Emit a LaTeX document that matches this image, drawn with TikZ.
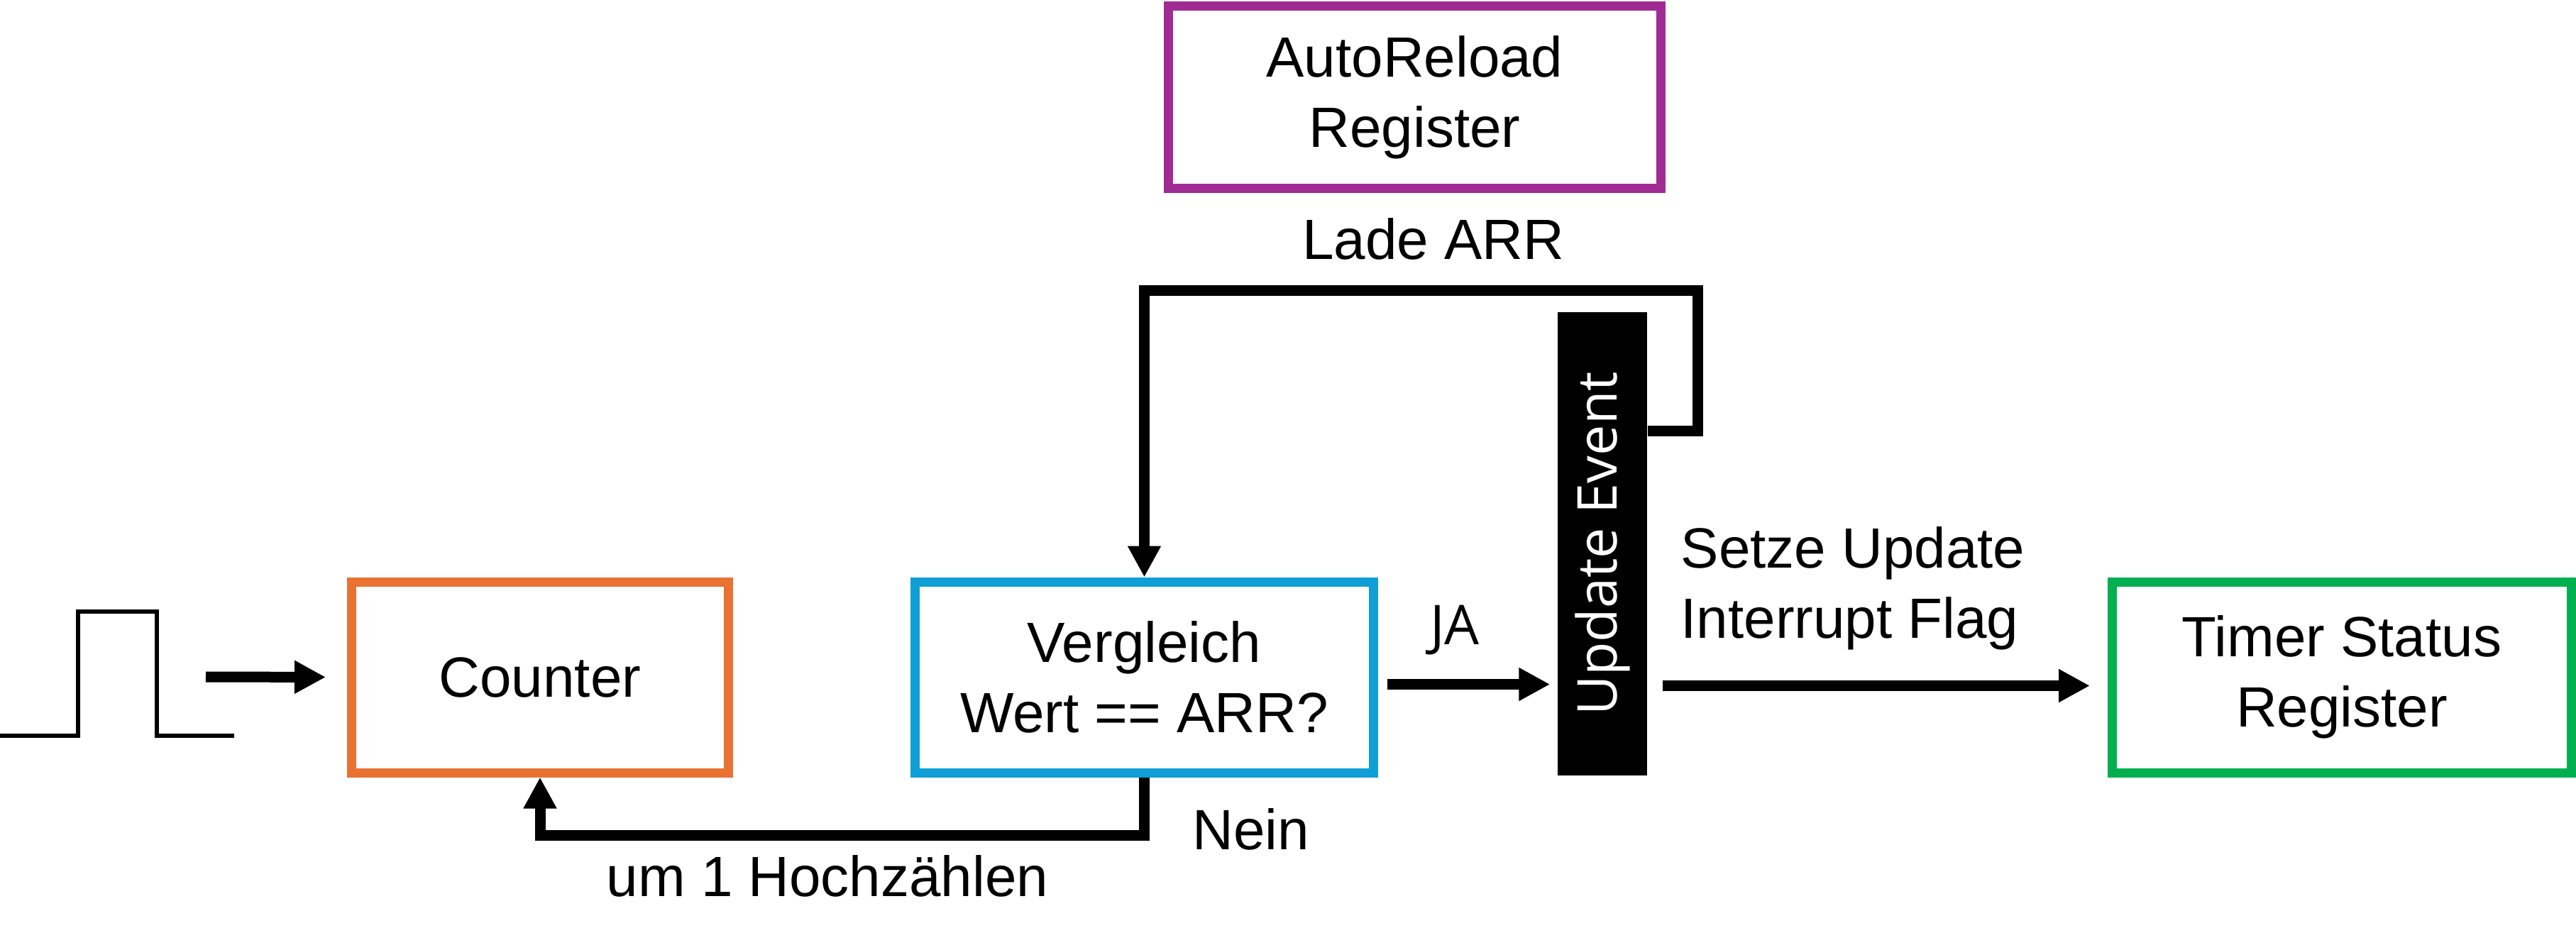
\documentclass[tikz,border=0pt]{standalone}
\usepackage{fontspec}
\setmainfont{Liberation Sans}
\newfontfamily\uifont{Open Sans}
\usetikzlibrary{arrows.meta}

\definecolor{cntorange}{RGB}{233,113,50}
\definecolor{cmpblue}{RGB}{15,158,213}
\definecolor{arrpurple}{RGB}{160,43,147}
\definecolor{tsrgreen}{RGB}{0,176,80}

\begin{document}
\begin{tikzpicture}[
  font=\fontsize{22.76}{28.1}\selectfont,
  block/.style={draw,line width=1.3mm,minimum width=#1,minimum height=2.69cm,align=center,inner sep=0pt},
  evtbar/.style={fill=black,text=white,minimum width=1.26cm,minimum height=6.53cm,inner sep=0pt,font=\uifont\fontsize{22}{26}\selectfont},
  flow/.style={line width=1.5mm,-{Triangle[length=4.4mm,width=4.4mm]}},
  tag/.style={anchor=base,inner sep=0pt}
]
  \useasboundingbox (0,0) rectangle (36.30,-13.38);

  \node[block=5.31cm,color=cntorange,text=black] (counter) at (7.61,-9.545) {Counter};
  \node[block=6.46cm,color=cmpblue,text=black] (compare) at (16.125,-9.545) {Vergleich\\Wert == ARR?};
  \node[block=6.94cm,color=arrpurple,text=black,minimum height=2.57cm] (reload) at (19.935,-1.37) {AutoReload\\Register};
  \node[block=6.47cm,color=tsrgreen,text=black] (status) at (33.00,-9.545) {Timer Status\\Register};
  \node[evtbar] (event) at (22.58,-7.665) {\rotatebox{90}{Update Event}};

  \draw[line width=0.6mm] (0,-10.37) -- (1.10,-10.37) -- (1.10,-8.62) -- (2.21,-8.62)
    -- (2.21,-10.37) -- (3.30,-10.37);
  \coordinate (clk) at (2.90,-9.54);

  \draw[flow,shorten >=3mm] (clk) -- (counter.west);
  \draw[flow,shorten >=1mm] ([xshift=1.3mm,yshift=-1mm]compare.east) -- ([yshift=-1mm]event.west |- compare.east);
  \draw[flow,shorten >=2.5mm] ([xshift=2.1mm,yshift=-1.2mm]event.east |- status.west) -- ([yshift=-1.2mm]status.west);
  \draw[flow] (compare.south) -- ++(0,-0.815) -| (counter.south);
  \draw[flow] ([yshift=15.9mm]event.east) -- ++(0.71,0) -- ++(0,1.985) -| (compare.north);

  \node[tag] (lade) at (20.20,-3.65) {Lade ARR};
  \node[tag,font=\uifont\fontsize{22}{26}\selectfont] (ja) at (20.50,-9.08) {JA};
  \node[tag] (nein) at (17.63,-11.97) {Nein};
  \node[tag] (count) at (11.66,-12.63) {um 1 Hochzählen};
  \node[align=left,inner sep=0pt] (setflag) at (26.11,-8.295) {Setze Update\\Interrupt Flag};
\end{tikzpicture}
\end{document}
